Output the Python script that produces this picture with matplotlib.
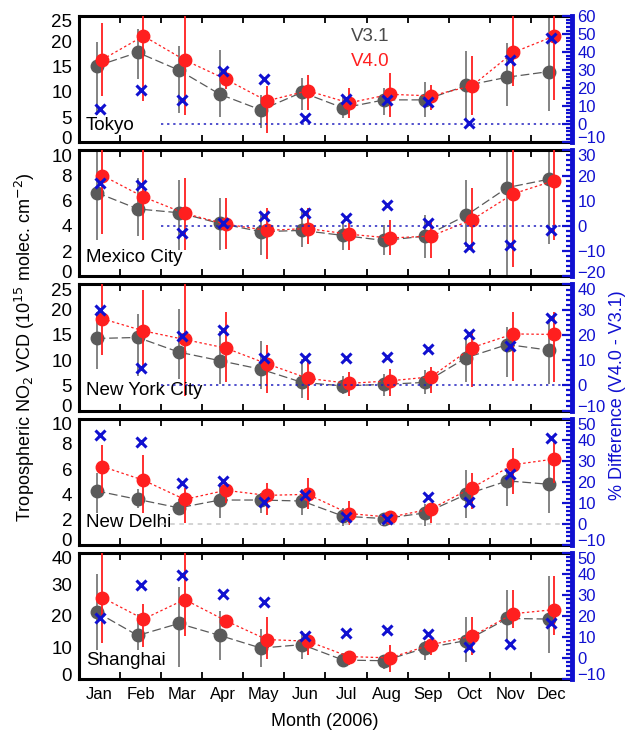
import matplotlib
matplotlib.use('Agg')
import matplotlib.pyplot as plt
from matplotlib.ticker import MultipleLocator, AutoMinorLocator, FixedLocator, NullFormatter, FixedFormatter
from matplotlib.transforms import ScaledTranslation
import numpy as np

plt.rcParams['font.family'] = ['Liberation Sans', 'DejaVu Sans']

months = ['Jan', 'Feb', 'Mar', 'Apr', 'May', 'Jun', 'Jul', 'Aug', 'Sep', 'Oct', 'Nov', 'Dec']
cities = ['Tokyo', 'Mexico City', 'New York City', 'New Delhi', 'Shanghai']

tokyo_v31 = [15.1, 17.8, 14.3, 9.5, 6.4, 9.9, 6.8, 8.4, 8.4, 11.25, 12.9, 14.0]
tokyo_v31_lo = [5.5, 12.5, 5.8, 5.1, 2.8, 6.4, 4.8, 5.5, 5.1, 4.5, 7.1, 6.1]
tokyo_v31_hi = [19.9, 22.5, 19.0, 18.3, 9.4, 12.7, 9.1, 10.7, 12.0, 18.0, 19.6, 26.0]
tokyo_v40 = [16.4, 21.05, 16.3, 12.5, 8.2, 10.2, 7.8, 9.5, 9.2, 11.2, 17.8, 21.05]
tokyo_v40_lo = [9.1, 8.1, 5.5, 10.6, 1.8, 6.4, 4.8, 5.1, 6.4, 5.5, 11.1, 8.4]
tokyo_v40_hi = [23.6, 27.0, 28.0, 14.5, 11.1, 13.4, 10.7, 13.7, 11.4, 17.0, 28.0, 27.0]
tokyo_diff = [8.5, 18.8, 13.3, 29.8, 25.2, 3.5, 14.0, 13.6, 12.3, 0.7, 35.7, 48.1]

mexico_v31 = [6.65, 5.35, 5.05, 4.2, 3.55, 3.65, 3.25, 2.85, 3.2, 4.85, 7.05, 7.7]
mexico_v31_lo = [2.9, 3.2, 2.1, 2.1, 1.7, 2.3, 2.1, 1.7, 1.5, 2.3, -0.3, 2.6]
mexico_v31_hi = [10.5, 7.8, 7.65, 6.2, 5.0, 5.4, 4.2, 4.1, 4.9, 7.65, 11.0, 11.0]
mexico_v40 = [8.0, 6.3, 5.0, 4.15, 3.65, 3.8, 3.35, 3.05, 3.2, 4.5, 6.55, 7.6]
mexico_v40_lo = [3.4, 2.9, 2.1, 2.2, 1.4, 2.6, 2.1, 1.7, 1.5, 2.1, 0.75, 2.9]
mexico_v40_hi = [11.0, 10.05, 7.8, 6.2, 5.4, 5.4, 4.2, 4.5, 4.5, 7.0, 11.0, 11.0]
mexico_diff = [17.0, 16.3, -2.7, 1.0, 3.9, 5.3, 3.3, 8.3, 1.0, -8.3, -7.4, -1.6]

nyc_v31 = [14.3, 14.5, 11.6, 9.9, 8.2, 5.6, 4.9, 5.2, 5.6, 10.5, 13.1, 12.0]
nyc_v31_lo = [8.3, 6.9, 6.3, 5.2, 4.2, 2.5, 3.2, 2.9, 3.2, 5.6, 6.6, 5.2]
nyc_v31_hi = [19.5, 19.2, 20.2, 15.8, 13.7, 10.3, 6.9, 7.3, 8.0, 14.8, 16.5, 18.2]
nyc_v40 = [18.2, 15.8, 14.1, 12.4, 9.3, 6.4, 5.4, 5.9, 6.7, 12.5, 15.2, 15.1]
nyc_v40_lo = [11.0, 8.0, 2.9, 5.6, 3.5, 2.2, 2.9, 2.9, 3.5, 4.6, 5.9, 5.6]
nyc_v40_hi = [26.0, 24.0, 25.3, 19.5, 13.1, 9.7, 7.6, 8.3, 8.6, 15.8, 19.5, 19.5]
nyc_diff = [30.0, 6.9, 19.5, 21.8, 10.7, 11.0, 10.7, 11.4, 14.4, 20.2, 15.7, 26.7]

delhi_v31 = [4.27, 3.6, 2.93, 3.55, 3.55, 3.47, 2.27, 2.08, 2.53, 4.0, 5.07, 4.8]
delhi_v31_lo = [2.5, 2.9, 2.4, 2.1, 2.5, 2.4, 1.5, 1.6, 1.5, 2.1, 3.1, 2.5]
delhi_v31_hi = [5.7, 4.4, 3.6, 4.9, 4.1, 4.4, 2.9, 2.5, 3.2, 5.9, 5.9, 6.8]
delhi_v40 = [6.2, 5.12, 3.6, 4.32, 3.92, 4.0, 2.48, 2.19, 2.85, 4.53, 6.35, 6.8]
delhi_v40_lo = [4.1, 2.5, 1.7, 3.3, 2.4, 2.8, 1.6, 1.6, 1.7, 2.8, 4.0, 4.9]
delhi_v40_hi = [7.9, 7.1, 4.5, 5.0, 4.9, 5.3, 3.5, 2.7, 3.3, 5.7, 7.7, 8.3]
delhi_diff = [42.0, 39.0, 19.6, 20.4, 10.3, 13.9, 3.0, 2.5, 12.8, 10.6, 23.7, 41.0]

shanghai_v31 = [21.2, 13.8, 17.6, 13.8, 9.8, 10.9, 6.0, 5.8, 9.8, 12.2, 19.2, 19.0]
shanghai_v31_lo = [9.2, 9.2, 3.8, 6.0, 3.8, 6.5, 3.8, 3.3, 6.0, 5.4, 12.0, 8.2]
shanghai_v31_hi = [33.2, 20.7, 29.3, 21.7, 15.8, 15.2, 8.2, 7.6, 12.0, 19.8, 28.3, 32.6]
shanghai_v40 = [25.8, 19.0, 25.2, 18.5, 12.5, 12.0, 7.1, 6.7, 10.9, 13.6, 20.7, 22.0]
shanghai_v40_lo = [11.4, 10.3, 13.6, 16.3, 6.5, 7.6, 4.3, 2.2, 7.6, 7.6, 16.3, 14.1]
shanghai_v40_hi = [42.0, 23.9, 42.0, 20.1, 19.6, 14.1, 8.2, 10.9, 12.0, 19.6, 28.3, 32.6]
shanghai_diff = [19.0, 34.6, 39.3, 30.3, 26.6, 10.5, 11.9, 13.1, 11.4, 5.4, 6.6, 16.4]

left_limits = [(0, 25), (0, 10), (0, 25), (0, 10), (0, 40)]
left_steps = [5, 2, 5, 2, 10]
right_limits = [(-10, 60), (-20, 30), (-10, 40), (-10, 50), (-10, 50)]

panels = [
    (tokyo_v31, tokyo_v31_lo, tokyo_v31_hi, tokyo_v40, tokyo_v40_lo, tokyo_v40_hi, tokyo_diff),
    (mexico_v31, mexico_v31_lo, mexico_v31_hi, mexico_v40, mexico_v40_lo, mexico_v40_hi, mexico_diff),
    (nyc_v31, nyc_v31_lo, nyc_v31_hi, nyc_v40, nyc_v40_lo, nyc_v40_hi, nyc_diff),
    (delhi_v31, delhi_v31_lo, delhi_v31_hi, delhi_v40, delhi_v40_lo, delhi_v40_hi, delhi_diff),
    (shanghai_v31, shanghai_v31_lo, shanghai_v31_hi, shanghai_v40, shanghai_v40_lo, shanghai_v40_hi, shanghai_diff),
]

label_y = [0.13, 0.15, 0.16, 0.18, 0.15]
zero_styles = [('#2020c0', (0, (1.5, 2.5))), ('#2020c0', (0, (1.5, 2.5))),
               ('#2020c0', (0, (1.5, 2.5))), ('#c8c8c8', (0, (3, 3))), None]

GREY = '#5a5a5a'
GREY_ERR = '#7a7a7a'
RED = '#ff1f1f'
BLUE = '#1010d0'

fig = plt.figure(figsize=(6.33, 7.32), dpi=100)
gs = fig.add_gridspec(5, 1, left=0.1248, right=0.9036, top=0.978, bottom=0.0724, hspace=0.0635)

xc = np.arange(12) + 0.5
off = 0.07

up = ScaledTranslation(0, 3.5 / 72, fig.dpi_scale_trans)
down = ScaledTranslation(0, -3.5 / 72, fig.dpi_scale_trans)


def nudge_edge_labels(axis, lims, right=False, top=True, bottom=True):
    locs = axis.get_majorticklocs()
    ticks = axis.get_major_ticks(len(locs))
    for t, loc in zip(ticks, locs):
        lbl = t.label2 if right else t.label1
        if bottom and np.isclose(loc, lims[0]):
            lbl.set_transform(lbl.get_transform() + up)
        elif top and np.isclose(loc, lims[1]):
            lbl.set_transform(lbl.get_transform() + down)


for i, (v31, lo31, hi31, v40, lo40, hi40, diff) in enumerate(panels):
    ax = fig.add_subplot(gs[i])
    ax.vlines(xc - off, lo31, hi31, color=GREY_ERR, lw=1.3, zorder=2)
    ax.plot(xc - off, v31, ls=(0, (7, 3)), color=GREY, lw=0.9, marker='o', ms=9,
            mfc=GREY, mec=GREY, zorder=3)
    ax.vlines(xc + off, lo40, hi40, color=RED, lw=1.3, zorder=4)
    ax.plot(xc + off, v40, ls=(0, (2, 2)), color=RED, lw=0.9, marker='o', ms=9,
            mfc=RED, mec=RED, zorder=5)
    ax.set_xlim(0, 12)
    ax.set_ylim(*left_limits[i])
    ax.yaxis.set_major_locator(MultipleLocator(left_steps[i]))
    ax.tick_params(axis='y', labelsize=13.5, length=0, pad=5)
    ax.xaxis.set_major_locator(FixedLocator(list(range(1, 12))))
    ax.xaxis.set_major_formatter(NullFormatter())
    ax.xaxis.set_minor_locator(FixedLocator(xc))
    if i == 4:
        ax.xaxis.set_minor_formatter(FixedFormatter(months))
    else:
        ax.xaxis.set_minor_formatter(NullFormatter())
    ax.tick_params(axis='x', which='major', direction='in', top=True, bottom=True,
                   length=5, width=1.3, color='black')
    ax.tick_params(axis='x', which='minor', length=0, labelsize=12, pad=6)
    for s in ['left', 'top', 'bottom']:
        ax.spines[s].set_linewidth(2.2)
    ax.spines['right'].set_visible(False)
    ax.text(0.014, label_y[i], cities[i], transform=ax.transAxes, fontsize=13.5,
            ha='left', va='center', zorder=6)
    nudge_edge_labels(ax.yaxis, left_limits[i])

    ax2 = ax.twinx()
    ax2.set_ylim(*right_limits[i])
    if zero_styles[i] is not None:
        c, ls = zero_styles[i]
        ax2.hlines(0, 2, 12, colors=c, linestyles=[ls], lw=1.1, zorder=1)
    ax2.plot(xc, diff, ls='none', marker='x', ms=7.5, mew=2.2, color=BLUE, zorder=6)
    ax2.yaxis.set_major_locator(MultipleLocator(10))
    ax2.yaxis.set_minor_locator(AutoMinorLocator(5))
    ax2.tick_params(axis='y', which='major', colors=BLUE, direction='in', length=7,
                    width=1.6, labelsize=12, pad=4)
    ax2.tick_params(axis='y', which='minor', colors=BLUE, direction='in', length=4, width=1.6)
    for s in ['left', 'top', 'bottom']:
        ax2.spines[s].set_visible(False)
    ax2.spines['right'].set_color(BLUE)
    ax2.spines['right'].set_linewidth(3.5)
    nudge_edge_labels(ax2.yaxis, right_limits[i], right=True, top=(i > 0))

    if i == 0:
        ax.text(0.59, 0.84, 'V3.1', transform=ax.transAxes, fontsize=13.5,
                color='#4a4a4a', ha='center', va='center')
        ax.text(0.59, 0.64, 'V4.0', transform=ax.transAxes, fontsize=13.5,
                color=RED, ha='center', va='center')

fig.text(25 / 633, 1 - 347 / 732,
         'Tropospheric NO$_2$ VCD (10$^{15}$ molec. cm$^{-2}$)',
         rotation=90, ha='center', va='center', fontsize=13)
fig.text(618 / 633, 1 - 395 / 732, '% Difference (V4.0 - V3.1)', rotation=90,
         ha='center', va='center', fontsize=13, color=BLUE)
fig.text(325 / 633, 1 - 721 / 732, 'Month (2006)', ha='center', va='center', fontsize=13)

fig.savefig('out.png', dpi=100)
